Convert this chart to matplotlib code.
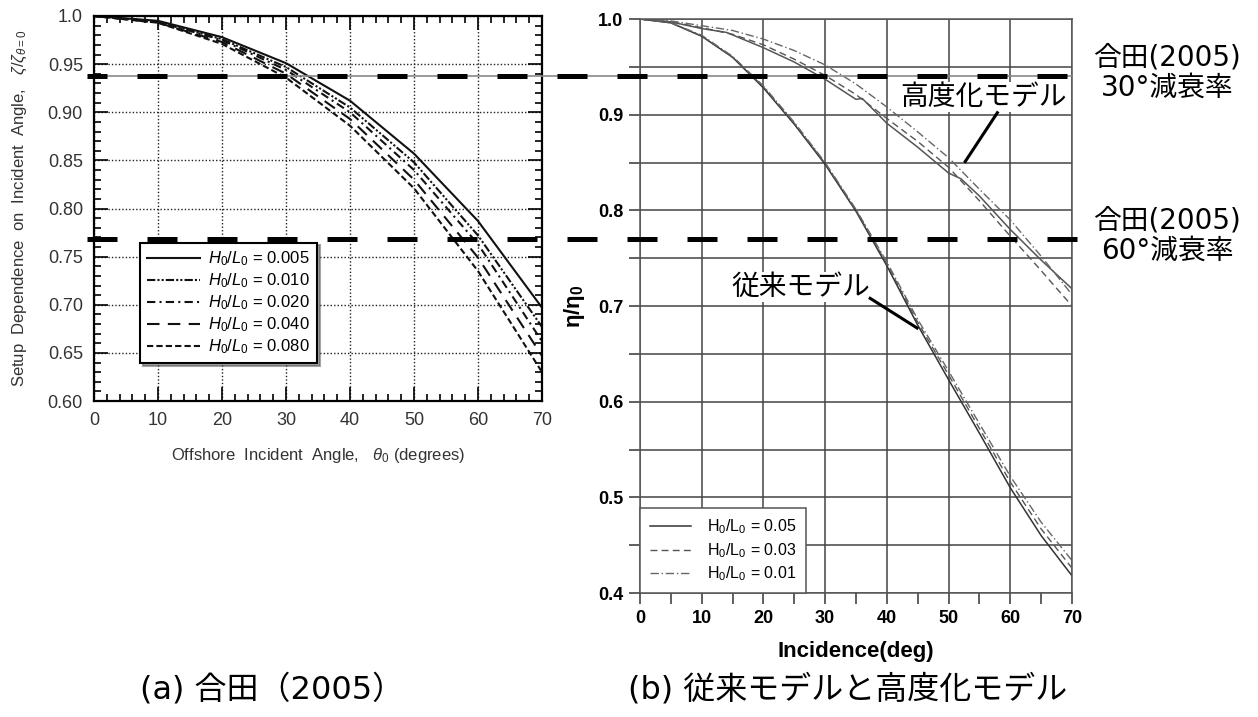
import numpy as np
import matplotlib
matplotlib.use('Agg')
from matplotlib import pyplot as plt
from matplotlib.lines import Line2D
from matplotlib.transforms import blended_transform_factory

plt.rcParams['font.family'] = ['Liberation Sans', 'DejaVu Sans']
plt.rcParams['mathtext.fontset'] = 'custom'
plt.rcParams['mathtext.rm'] = 'Liberation Sans'
plt.rcParams['mathtext.it'] = 'Liberation Sans:italic'
plt.rcParams['mathtext.bf'] = 'Liberation Sans:bold'

# (a) Goda (2005)
theta_a = [0, 10, 20, 30, 40, 50, 60, 70]
goda_labels = ['0.005', '0.010', '0.020', '0.040', '0.080']
goda_005 = [1.0, 0.995, 0.978, 0.951, 0.912, 0.857, 0.787, 0.697]
goda_010 = [1.0, 0.994, 0.976, 0.947, 0.905, 0.848, 0.772, 0.677]
goda_020 = [1.0, 0.994, 0.975, 0.944, 0.900, 0.840, 0.763, 0.662]
goda_040 = [1.0, 0.993, 0.973, 0.940, 0.893, 0.830, 0.749, 0.647]
goda_080 = [1.0, 0.993, 0.971, 0.936, 0.886, 0.821, 0.735, 0.630]
goda_series = [goda_005, goda_010, goda_020, goda_040, goda_080]

# (b) conventional and advanced models
theta_b = [0, 5, 10, 15, 20, 25, 30, 35, 40, 45, 50, 55, 60, 65, 70]
conv_05 = [1.0, 0.996, 0.982, 0.960, 0.928, 0.890, 0.848, 0.799, 0.742, 0.680, 0.623, 0.567, 0.510, 0.460, 0.418]
conv_03 = [1.0, 0.996, 0.982, 0.960, 0.929, 0.891, 0.849, 0.800, 0.744, 0.683, 0.628, 0.572, 0.516, 0.467, 0.426]
conv_01 = [1.0, 0.996, 0.983, 0.961, 0.930, 0.892, 0.850, 0.801, 0.746, 0.686, 0.632, 0.577, 0.522, 0.474, 0.434]
theta_adv05 = [0, 5, 10, 14, 20, 25, 30, 35, 36, 40, 45, 50, 52, 55, 60, 65, 70]
adv_05 = [1.0, 0.997, 0.990, 0.986, 0.970, 0.955, 0.937, 0.916, 0.917, 0.891, 0.866, 0.839, 0.833, 0.815, 0.780, 0.748, 0.718]
adv_03 = [1.0, 0.997, 0.991, 0.984, 0.973, 0.958, 0.941, 0.921, 0.896, 0.872, 0.845, 0.810, 0.773, 0.737, 0.700]
adv_01 = [1.0, 0.998, 0.993, 0.988, 0.979, 0.967, 0.952, 0.932, 0.908, 0.882, 0.855, 0.822, 0.790, 0.752, 0.712]
model_labels = ['0.05', '0.03', '0.01']

goda_levels = [0.94, 0.77]
goda_notes = ['合田(2005)\n30°減衰率', '合田(2005)\n60°減衰率']

W, H = 1258, 717
fig = plt.figure(figsize=(W / 100, H / 100), dpi=100)


def box(x0, y0, x1, y1):
    return [x0 / W, 1 - y1 / H, (x1 - x0) / W, (y1 - y0) / H]


# ---------- left panel ----------
ax1 = fig.add_axes(box(94, 16, 542, 401))
styles_a = ['-', (0, (4, 1, 1, 1, 1, 1)), (0, (4, 2, 1, 2)), (0, (6, 4)), (0, (3, 1.5))]
for vals, lab, ls in zip(goda_series, goda_labels, styles_a):
    ax1.plot(theta_a, vals, color='#111111', linestyle=ls, linewidth=1.5,
             label=r'$H_0/L_0$ = ' + lab)
ax1.set_xlim(0, 70)
ax1.set_ylim(0.60, 1.0)
ax1.set_xticks(np.arange(0, 71, 10))
ax1.set_xticks(np.arange(0, 71, 2), minor=True)
yt = np.arange(0.60, 1.001, 0.05)
ax1.set_yticks(yt)
ax1.set_yticklabels(['%.2f' % v for v in yt[:-1]] + ['1.0'])
ax1.set_yticks(np.arange(0.60, 1.001, 0.01), minor=True)
ax1.tick_params(which='both', direction='in', top=True, right=True,
                labelsize=13, labelcolor='#333333', width=1.2, pad=8)
ax1.tick_params(which='major', length=10)
ax1.tick_params(which='minor', length=5)
ax1.grid(True, which='major', color='#222222', linestyle=(0, (1, 1.5)), linewidth=1)
for s in ax1.spines.values():
    s.set_linewidth(1.6)
ax1.set_xlabel(r'Offshore  Incident  Angle,   $\theta_0$ (degrees)', fontsize=12,
               color='#333333', labelpad=12)
ax1.set_ylabel(r'Setup  Dependence  on  Incident  Angle,   $\zeta/\zeta_{\theta=0}$',
               fontsize=12, color='#333333')
ax1.yaxis.set_label_coords(-0.145, 0.5)
leg1 = ax1.legend(loc='lower left', bbox_to_anchor=(0.103, 0.099), borderaxespad=0,
                  fontsize=12, handlelength=3.2, frameon=True, fancybox=False, shadow=True,
                  edgecolor='black', framealpha=1, borderpad=0.4, labelspacing=0.2,
                  handletextpad=0.5)
leg1.get_frame().set_linewidth(1.5)

# ---------- right panel ----------
ax2 = fig.add_axes(box(640, 19, 1072, 593))
ax2.plot(theta_b, conv_05, color='#333333', linewidth=1.1, linestyle='-', label='H$_0$/L$_0$ = ' + model_labels[0])
ax2.plot(theta_b, conv_03, color='#555555', linewidth=1.0, linestyle=(0, (5, 3)), label='H$_0$/L$_0$ = ' + model_labels[1])
ax2.plot(theta_b, conv_01, color='#666666', linewidth=1.0, linestyle=(0, (6, 2, 1, 2)), label='H$_0$/L$_0$ = ' + model_labels[2])
ax2.plot(theta_adv05, adv_05, color='#555555', linewidth=1.1, linestyle='-')
ax2.plot(theta_b, adv_03, color='#555555', linewidth=1.0, linestyle=(0, (5, 3)))
ax2.plot(theta_b, adv_01, color='#666666', linewidth=1.0, linestyle=(0, (6, 2, 1, 2)))
ax2.set_xlim(0, 70)
ax2.set_ylim(0.4, 1.0)
ax2.set_xticks(np.arange(0, 71, 10))
ax2.set_xticks(np.arange(0, 71, 5), minor=True)
ax2.set_yticks(np.arange(0.4, 1.001, 0.1))
ax2.set_yticklabels(['%.1f' % v for v in np.arange(0.4, 1.001, 0.1)])
ax2.set_yticks(np.arange(0.4, 1.001, 0.05), minor=True)
ax2.tick_params(which='both', direction='out', length=8, width=1.2, color='#444444')
ax2.tick_params(which='major', labelsize=13, pad=4)
for lab in ax2.get_xticklabels() + ax2.get_yticklabels():
    lab.set_fontweight('bold')
ax2.grid(True, axis='x', which='major', color='#444444', linewidth=1.1)
ax2.grid(True, axis='y', which='both', color='#444444', linewidth=1.1)
for s in ax2.spines.values():
    s.set_color('#555555')
    s.set_linewidth(1.1)
ax2.set_xlabel('Incidence(deg)', fontsize=16, fontweight='bold', labelpad=10)
ax2.set_ylabel(r'η/η$_\mathbf{0}$', fontsize=16, fontweight='bold', labelpad=8)
leg2 = ax2.legend(loc='lower left', bbox_to_anchor=(0, 0), borderaxespad=0,
                  fontsize=11.5, handlelength=2.6, fancybox=False, framealpha=1,
                  edgecolor='#555555', borderpad=0.6, labelspacing=0.3, handletextpad=1.0)
leg2.get_frame().set_linewidth(1.1)

jp = ['Noto Sans CJK JP', 'DejaVu Sans']
ax2.text(55.7, 0.918, '高度化モデル', fontsize=20, family=jp, ha='center', va='center',
         bbox=dict(facecolor='white', edgecolor='none', pad=0), zorder=5)
ax2.plot([57.9, 52.7], [0.902, 0.851], color='black', linewidth=2.2, zorder=6)
ax2.text(26.1, 0.720, '従来モデル', fontsize=20, family=jp, ha='center', va='center',
         bbox=dict(facecolor='white', edgecolor='none', pad=0), zorder=5)
ax2.plot([37.3, 44.9], [0.708, 0.677], color='black', linewidth=2.2, zorder=6)

# ---------- Goda reference levels across both panels ----------
tr = blended_transform_factory(fig.transFigure, ax2.transData)
fig.add_artist(Line2D([94 / W, 1072 / W], [goda_levels[0]] * 2, transform=tr,
                      color='#888888', linewidth=1.2, zorder=9))
phases = [2, 0]
for lev, ph in zip(goda_levels, phases):
    fig.add_artist(Line2D([87 / W, 1080 / W], [lev, lev], transform=tr,
                          color='black', linewidth=3.6, linestyle=(ph, (6, 6)), zorder=10))

for note, y in zip(goda_notes, [73, 236]):
    fig.text(1167 / W, 1 - y / H, note, ha='center', va='center',
             fontsize=20, family=['DejaVu Sans', 'Noto Sans CJK JP'], linespacing=1.1)

fig.text(272 / W, 1 - 690 / H, '(a) 合田（2005）', ha='center', va='center',
         fontsize=23, family=['DejaVu Sans', 'Noto Sans CJK JP'])
fig.text(848 / W, 1 - 690 / H, '(b) 従来モデルと高度化モデル', ha='center', va='center',
         fontsize=23, family=['DejaVu Sans', 'Noto Sans CJK JP'])

fig.savefig('out.png', dpi=100)
